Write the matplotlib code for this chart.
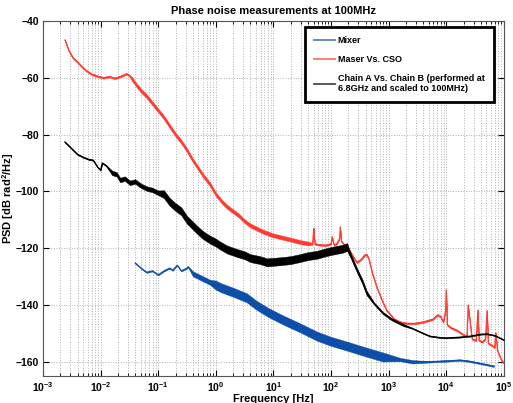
import numpy as np
import matplotlib
matplotlib.use("Agg")
import matplotlib.pyplot as plt
from matplotlib.ticker import FixedLocator, LogLocator, LogFormatterMathtext, NullFormatter

plt.rcParams['font.family'] = ['Liberation Sans', 'DejaVu Sans']
plt.rcParams['font.weight'] = 'bold'
plt.rcParams['mathtext.fontset'] = 'custom'
plt.rcParams['mathtext.rm'] = 'Liberation Sans:bold'
plt.rcParams['mathtext.bf'] = 'Liberation Sans:bold'
plt.rcParams['mathtext.it'] = 'Liberation Sans:bold'

# Maser Vs. CSO (log10 of frequency, dB)
red_logf = [-2.62, -2.55, -2.48, -2.40, -2.33, -2.25, -2.15, -2.05, -1.95, -1.85,
            -1.75, -1.65, -1.55, -1.50, -1.45, -1.38, -1.30, -1.20, -1.10, -1.00,
            -0.90, -0.80, -0.70, -0.60, -0.50, -0.40, -0.30, -0.20, -0.10, 0.00,
            0.10, 0.20, 0.30, 0.40, 0.50, 0.60, 0.70, 0.80, 0.90, 1.00,
            1.10, 1.20, 1.30, 1.40, 1.50, 1.60, 1.68, 1.70, 1.72, 1.80,
            1.90, 2.00, 2.02, 2.05, 2.10, 2.15, 2.16, 2.18, 2.25, 2.33,
            2.40, 2.45, 2.52, 2.58, 2.62, 2.66, 2.72, 2.80, 2.90, 2.97,
            3.10, 3.20, 3.32, 3.45, 3.60, 3.77, 3.85, 3.90, 3.95, 3.99,
            4.00, 4.02, 4.08, 4.19, 4.30, 4.36, 4.38, 4.45, 4.52, 4.55,
            4.57, 4.63, 4.68, 4.71, 4.73, 4.78, 4.84, 4.86, 4.89, 4.95, 5.00]
red_db = [-46.7, -50.5, -53.0, -54.5, -56.0, -57.5, -58.8, -59.5, -60.0, -59.6,
          -60.2, -59.5, -58.6, -59.2, -60.5, -62.5, -64.5, -66.5, -69.0, -71.5,
          -74.0, -77.0, -80.0, -82.5, -85.5, -89.0, -92.0, -95.0, -97.5, -101.0,
          -103.5, -105.5, -107.0, -108.5, -110.5, -112.0, -113.0, -114.0, -114.8, -115.5,
          -116.0, -116.5, -117.0, -117.5, -118.0, -118.3, -118.5, -113.0, -118.5, -118.8,
          -119.0, -118.5, -116.0, -118.8, -118.5, -116.5, -112.5, -117.5, -119.5, -121.0,
          -123.5, -125.0, -124.0, -122.5, -122.2, -124.0, -129.0, -134.0, -139.0, -142.0,
          -145.0, -146.0, -146.5, -146.5, -146.0, -145.0, -143.5, -144.0, -146.0, -142.0,
          -134.7, -147.0, -148.0, -149.0, -150.5, -151.0, -140.0, -152.0, -152.5, -141.8,
          -152.5, -153.0, -152.0, -142.0, -153.5, -154.0, -155.0, -149.8, -156.0, -159.0, -160.5]
red_spread = [0.3] * 14 + [0.7] * 32 + [0.3] * 55

# Chain A Vs. Chain B
blk_logf = [-2.62, -2.50, -2.40, -2.30, -2.20, -2.13, -2.05, -2.00, -1.97, -1.90,
            -1.80, -1.72, -1.66, -1.58, -1.49, -1.40, -1.30, -1.20, -1.10, -1.00,
            -0.90, -0.80, -0.70, -0.60, -0.50, -0.40, -0.30, -0.22, -0.10, 0.00,
            0.07, 0.20, 0.37, 0.50, 0.60, 0.77, 0.89, 1.00, 1.17, 1.30,
            1.46, 1.60, 1.76, 1.90, 2.00, 2.10, 2.20, 2.28, 2.35, 2.45,
            2.55, 2.62, 2.75, 2.90, 3.05, 3.25, 3.42, 3.60, 3.72, 3.90,
            4.01, 4.20, 4.41, 4.60, 4.71, 4.85, 5.00]
blk_db = [-82.6, -85.0, -87.0, -88.0, -88.8, -89.0, -91.5, -92.5, -90.0, -91.0,
          -93.5, -94.0, -96.0, -95.5, -97.0, -96.5, -98.0, -99.0, -99.5, -100.5,
          -101.0, -103.7, -105.5, -107.0, -110.0, -112.0, -114.0, -115.4, -117.0, -118.0,
          -119.0, -120.5, -121.7, -122.5, -123.5, -124.2, -125.0, -124.8, -124.5, -124.2,
          -123.5, -122.8, -122.3, -121.5, -121.0, -120.6, -120.2, -119.6, -123.0, -127.7,
          -132.0, -135.8, -139.5, -142.8, -145.0, -147.0, -148.3, -150.0, -151.0, -151.5,
          -151.6, -151.4, -151.0, -150.3, -150.2, -150.8, -152.3]
blk_spread = ([0.2] * 10 + [0.8] * 10 + [1.4] * 28 + [0.8] * 4 + [0.4] * 4 + [0.15] * 11)

# Mixer
blu_logf = [-1.40, -1.30, -1.20, -1.10, -1.00, -0.90, -0.80, -0.75, -0.67, -0.60,
            -0.50, -0.48, -0.40, -0.30, -0.22, -0.10, 0.00, 0.10, 0.30, 0.54,
            0.70, 0.90, 1.17, 1.46, 1.76, 2.00, 2.33, 2.60, 2.90, 3.20,
            3.42, 3.70, 4.00, 4.24, 4.40, 4.60, 4.70, 4.81, 4.83]
blu_db = [-125.2, -127.0, -128.5, -128.0, -129.4, -128.0, -127.0, -127.8, -126.0, -128.0,
          -127.0, -126.5, -129.0, -130.0, -130.8, -132.0, -133.0, -134.0, -135.5, -137.5,
          -140.0, -142.5, -145.3, -148.0, -151.0, -152.8, -154.8, -156.5, -158.3, -159.2,
          -160.0, -160.0, -159.7, -159.4, -159.8, -160.6, -161.0, -161.5, -161.5]
blu_spread = ([0.2] * 12 + [0.9] * 4 + [1.6] * 13 + [0.6] * 2 + [0.25] * 8)

x_decades = [-3, -2, -1, 0, 1, 2, 3, 4, 5]
y_ticks = [-160, -140, -120, -100, -80, -60, -40]

c_blue = '#0d4fa8'
c_red = '#ff3b30'

fig = plt.figure(figsize=(5.13, 4.03), dpi=100)
ax = fig.add_axes([0.0838, 0.067, 0.8982, 0.881])
ax.set_axisbelow(True)

f_red = 10 ** np.array(red_logf)
f_blk = 10 ** np.array(blk_logf)
f_blu = 10 ** np.array(blu_logf)

ax.fill_between(f_blu, np.array(blu_db) - np.array(blu_spread),
                np.array(blu_db) + np.array(blu_spread), color=c_blue, lw=0.3, zorder=2)
ax.plot(f_blu, blu_db, color=c_blue, lw=0.8, label='Mixer', zorder=2)
ax.fill_between(f_red, np.array(red_db) - np.array(red_spread),
                np.array(red_db) + np.array(red_spread), color=c_red, lw=0.3, zorder=2)
ax.plot(f_red, red_db, color=c_red, lw=0.8, label='Maser Vs. CSO', zorder=2)
ax.fill_between(f_blk, np.array(blk_db) - np.array(blk_spread),
                np.array(blk_db) + np.array(blk_spread), color='black', lw=0.3, zorder=3)
ax.plot(f_blk, blk_db, color='black', lw=0.9, zorder=3,
        label='Chain A Vs. Chain B (performed at\n6.8GHz and scaled to 100MHz)')

ax.set_xscale('log')
ax.set_xlim(1e-3, 1e5)
ax.set_ylim(-165, -40)
ax.set_yticks(y_ticks)
ax.xaxis.set_major_locator(FixedLocator([10.0 ** d for d in x_decades]))
ax.xaxis.set_minor_locator(LogLocator(base=10, subs=np.arange(2, 10), numticks=20))
ax.xaxis.set_major_formatter(LogFormatterMathtext())
ax.xaxis.set_minor_formatter(NullFormatter())
ax.tick_params(which='both', direction='in', top=True, right=True, labelsize=7.5, pad=3)
ax.tick_params(which='major', length=4)
ax.tick_params(which='minor', length=2)
ax.grid(True, which='major', axis='both', color='#b0b0b0', linestyle=':', lw=0.7)
ax.grid(True, which='minor', axis='x', color='#b0b0b0', linestyle=':', lw=0.7)
for s in ax.spines.values():
    s.set_color('#555555')
    s.set_linewidth(0.8)

ax.set_title('Phase noise measurements at 100MHz', fontsize=8, fontweight='bold', pad=5)
ax.set_xlabel('Frequency [Hz]', fontsize=8, fontweight='bold', labelpad=0)
ax.set_ylabel('PSD [dB rad$^2$/Hz]', fontsize=8, fontweight='bold')
ax.yaxis.set_label_coords(-0.058, 0.5)

leg = ax.legend(loc='upper right', bbox_to_anchor=(0.978, 0.983), borderaxespad=0,
                fontsize=6.5, fancybox=False, framealpha=1, edgecolor='black',
                handlelength=2.3, handletextpad=0.3, borderpad=1.0, labelspacing=1.1)
leg.get_frame().set_linewidth(2.0)
for t in leg.get_texts():
    t.set_fontweight('bold')
for h in leg.get_lines():
    h.set_linewidth(1.3)
    h.set_alpha(0.7)

fig.savefig('out.png', dpi=100)
